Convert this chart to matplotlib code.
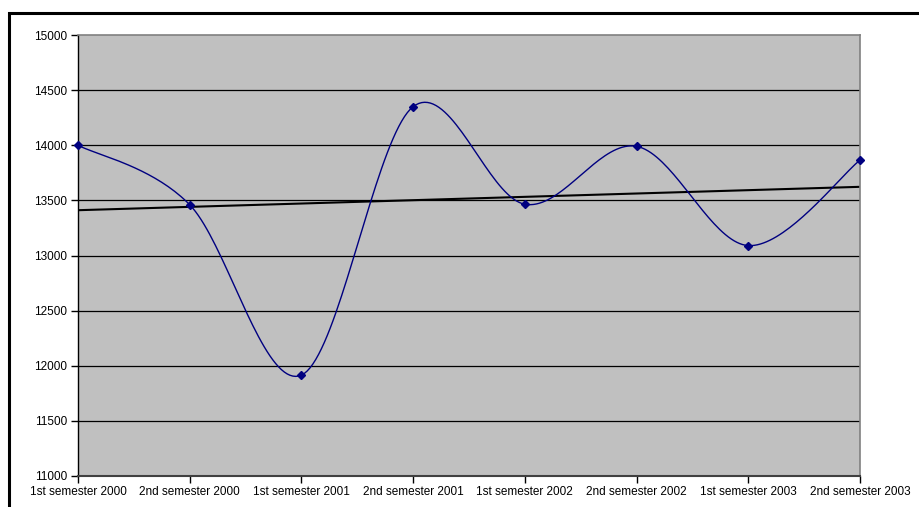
import numpy as np
import matplotlib
matplotlib.use("Agg")
import matplotlib.pyplot as plt
from matplotlib.patches import Rectangle

categories = ["1st semester 2000", "2nd semester 2000", "1st semester 2001",
              "2nd semester 2001", "1st semester 2002", "2nd semester 2002",
              "1st semester 2003", "2nd semester 2003"]
values = [14000, 13460, 11915, 14350, 13465, 13990, 13090, 13865]
yticks = [11000, 11500, 12000, 12500, 13000, 13500, 14000, 14500, 15000]

plt.rcParams['font.family'] = ['Liberation Sans', 'DejaVu Sans']

W, H = 920, 507
fig = plt.figure(figsize=(W / 100, H / 100), dpi=100)
fig.patch.set_facecolor('white')

# chart area border (cropped at right and bottom)
fig.patches.append(Rectangle((9 / W, -0.1), 2.0, (H - 12.5) / H + 0.1,
                             transform=fig.transFigure, fill=False,
                             edgecolor='black', linewidth=2.2))

ax = fig.add_axes([78 / W, (H - 476) / H, (860 - 78) / W, (476 - 35) / H])
ax.set_facecolor('#C0C0C0')

x = np.arange(len(values))
y = np.array(values, dtype=float)

# Excel-style smoothed line (Bezier / Catmull-Rom)
P = np.column_stack([x, y])
n = len(P)
xs, ys = [], []
t = np.linspace(0, 1, 40)
for i in range(n - 1):
    p0 = P[i]
    p3 = P[i + 1]
    pm = P[i - 1] if i > 0 else P[i]
    pp = P[i + 2] if i + 2 < n else P[i + 1]
    c1 = p0 + (p3 - pm) / 6
    c2 = p3 - (pp - p0) / 6
    b = ((1 - t) ** 3)[:, None] * p0 + (3 * (1 - t) ** 2 * t)[:, None] * c1 \
        + (3 * (1 - t) * t ** 2)[:, None] * c2 + (t ** 3)[:, None] * p3
    xs.extend(b[:, 0])
    ys.extend(b[:, 1])

for v in yticks[1:-1]:
    ax.axhline(v, color='black', linewidth=0.9, zorder=1)

ax.plot(xs, ys, color='#000080', linewidth=1.0, zorder=3, clip_on=False)
ax.plot(x, y, linestyle='none', marker='D', markersize=4,
        color='#000080', zorder=4, clip_on=False)

# linear trendline
k, c = np.polyfit(x, y, 1)
ax.plot([x[0], x[-1]], [c + k * x[0], c + k * x[-1]], color='black',
        linewidth=1.5, zorder=2)

ax.set_xlim(0, n - 1)
ax.set_ylim(11000, 15000)
ax.set_yticks(yticks)
ax.set_yticklabels([str(v) for v in yticks], fontsize=8.5)
ax.set_xticks(x)
ax.set_xticklabels(categories, fontsize=8.5)
ax.tick_params(axis='y', length=5, width=1, color='black', pad=3)
ax.tick_params(axis='x', length=5, width=1, color='black', pad=2.5)

ax.spines['left'].set_color('black')
ax.spines['left'].set_linewidth(1)
ax.spines['bottom'].set_color('#404040')
ax.spines['bottom'].set_linewidth(1.5)
ax.spines['top'].set_color('#808080')
ax.spines['top'].set_linewidth(1.2)
ax.spines['right'].set_color('#808080')
ax.spines['right'].set_linewidth(1.2)

fig.savefig('out.png', dpi=100)
